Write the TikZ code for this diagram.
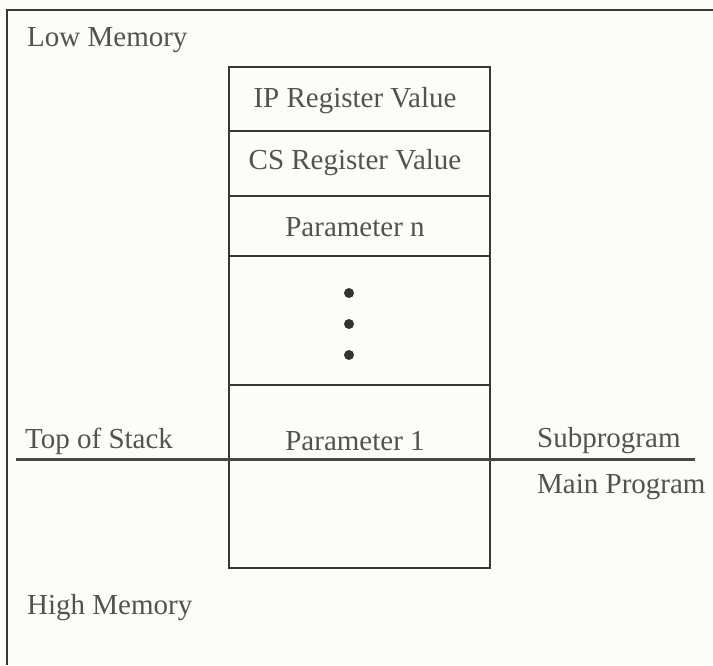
\documentclass[tikz,border=0pt]{standalone}
\usepackage{fontspec}
\setmainfont{Liberation Serif}
\begin{document}
\begin{tikzpicture}[x=1pt,y=-1pt,
  lbl/.style={font=\fontsize{29}{33}\selectfont, text=black!68, inner sep=0pt},
  leftlbl/.style={lbl, anchor=west},
  ln/.style={draw=black!78, line width=2.2pt},
  sep/.style={draw=black!72, line width=3pt},
  dotmark/.style={circle, fill=black!80, inner sep=0pt, minimum size=10pt}]
\useasboundingbox[fill={rgb,255:red,252;green,252;blue,248}] (0,0) rectangle (713,665);
% frame
\coordinate (ftr) at (713,10);
\coordinate (ftl) at (7,10);
\coordinate (fbl) at (7,665);
\draw[ln] (ftr) -- (ftl) -- (fbl);
% stack box
\coordinate (b1) at (229,67);
\coordinate (b2) at (490,568);
\draw[ln] (b1) rectangle (b2);
\coordinate (r1l) at (229,131); \coordinate (r1r) at (490,131);
\coordinate (r2l) at (229,196); \coordinate (r2r) at (490,196);
\coordinate (r3l) at (229,256); \coordinate (r3r) at (490,256);
\coordinate (r4l) at (229,385); \coordinate (r4r) at (490,385);
\draw[ln] (r1l) -- (r1r);
\draw[ln] (r2l) -- (r2r);
\draw[ln] (r3l) -- (r3r);
\draw[ln] (r4l) -- (r4r);
% separator
\coordinate (sl) at (16,459);
\coordinate (sr) at (695,459);
\draw[sep] (sl) -- (sr);
% texts
\node[leftlbl] (low) at (27,40) {Low Memory};
\node[lbl] (ip) at (355,101) {IP Register Value};
\node[lbl] (cs) at (355,163) {CS Register Value};
\node[lbl] (pn) at (355,227) {Parameter n};
\node[dotmark] (d1) at (349,293) {};
\node[dotmark] (d2) at (349,324) {};
\node[dotmark] (d3) at (349,355) {};
\node[leftlbl] (tos) at (25,441) {Top of Stack};
\node[lbl] (p1) at (355,441) {Parameter 1};
\node[leftlbl] (sub) at (537,441) {Subprogram};
\node[leftlbl] (main) at (537,487) {Main Program};
\node[leftlbl] (high) at (27,608) {High Memory};
\end{tikzpicture}
\end{document}
